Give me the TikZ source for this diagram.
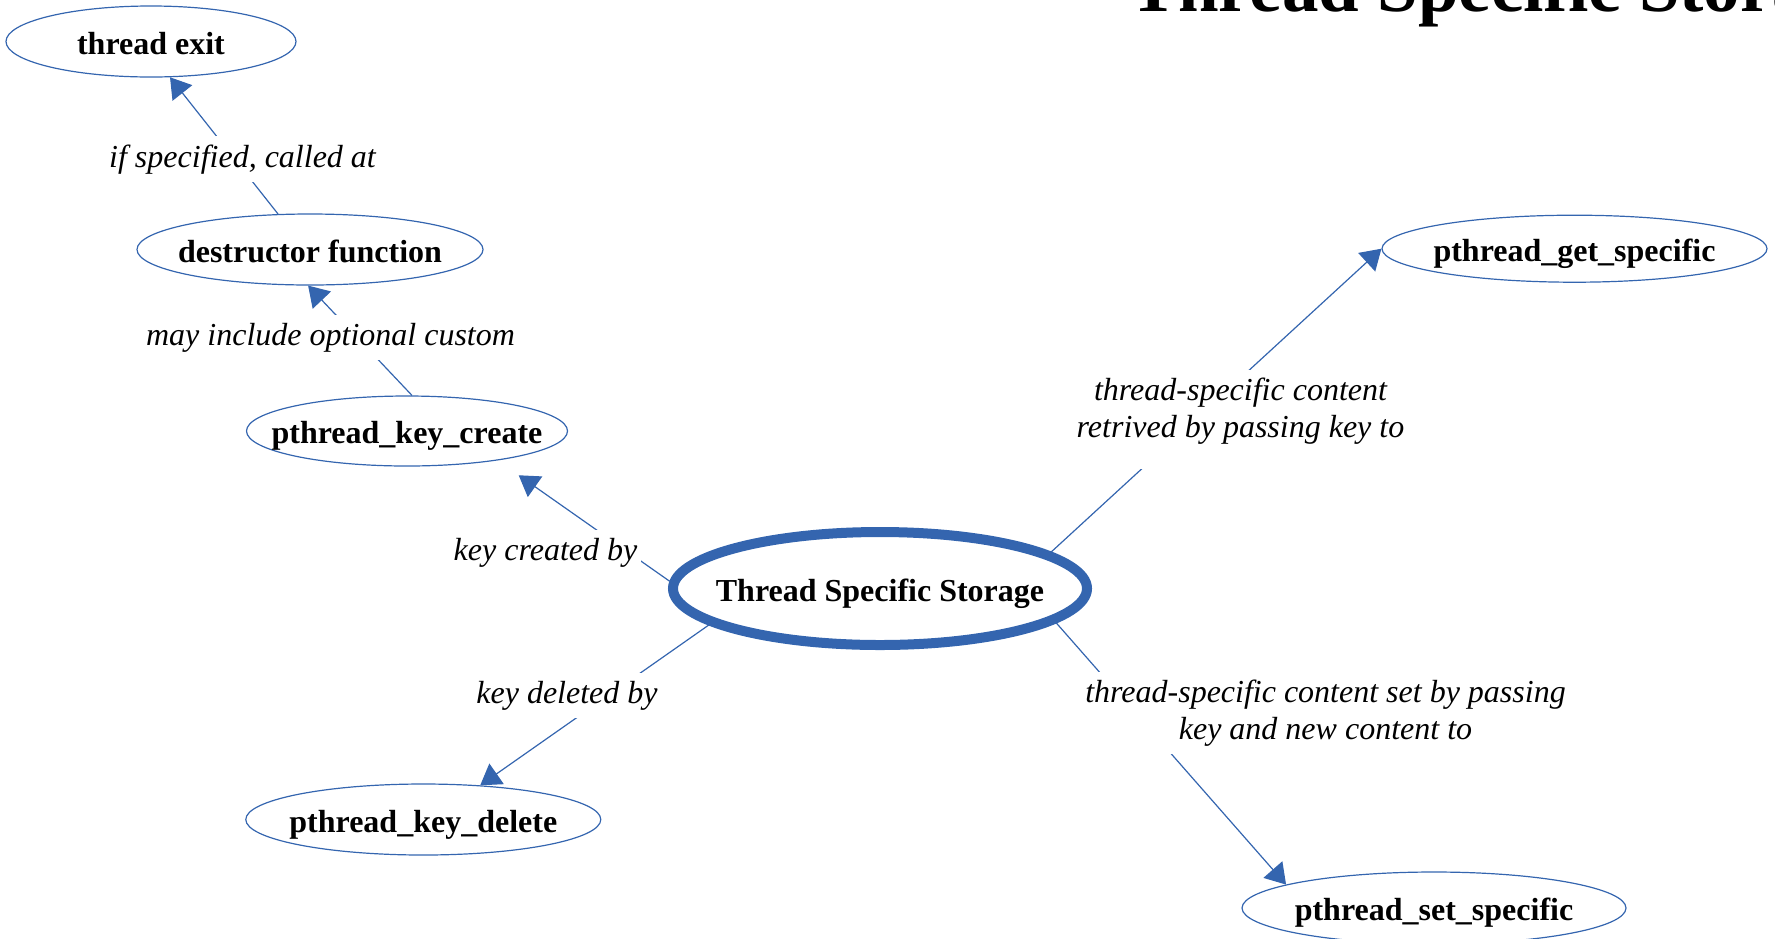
\documentclass[tikz,border=0pt]{standalone}
\usepackage{fontspec}
\setmainfont{Liberation Serif}
\usetikzlibrary{shapes.geometric,arrows.meta}
\definecolor{tssblue}{RGB}{52,101,175}
\newcommand{\nb}[1]{\makebox[0pt]{#1}}
\begin{document}
\begin{tikzpicture}[x=0.5pt,y=-0.5pt,
  leaf/.style={ellipse, draw=tssblue, line width=0.6pt, inner sep=0pt,
    text height=12.5pt, text depth=0pt,
    font=\fontsize{16pt}{18.5pt}\selectfont\bfseries},
  hub/.style={leaf, line width=5pt},
  lab/.style={fill=white, inner xsep=2pt, inner ysep=4pt,
    font=\fontsize{16pt}{18.5pt}\selectfont\itshape},
  labtwo/.style={lab, align=center},
  conn/.style={draw=tssblue, line width=0.6pt,
    -{Triangle[length=10pt,width=12.5pt]}}
]
\useasboundingbox (0,0) rectangle (1775,938);
\clip (0,0) rectangle (1775,938);

% title (cut by the frame)
\node[anchor=base west, inner sep=0pt,
  font=\fontsize{36.5pt}{40pt}\selectfont\bfseries] (title) at (1129,11.5) {Thread Specific Storage};

% nodes
\node[leaf, minimum width=145pt, minimum height=35.5pt] (texit) at (151,41.5) {\nb{thread exit}};
\node[leaf, minimum width=173pt, minimum height=35.5pt] (destr) at (310,249.5) {\nb{destructor function}};
\node[leaf, minimum width=160.5pt, minimum height=35pt] (kcreate) at (407,431) {\nb{pthread\_key\_create}};
\node[hub, minimum width=207pt, minimum height=56.5pt] (tss) at (880,588.5) {\nb{Thread Specific Storage}};
\node[leaf, minimum width=192.5pt, minimum height=33.5pt] (getspec) at (1574.5,248.7) {\nb{pthread\_get\_specific}};
\node[leaf, minimum width=177.5pt, minimum height=35.5pt] (kdelete) at (423.3,819.5) {\nb{pthread\_key\_delete}};
\node[leaf, minimum width=192pt, minimum height=36pt] (setspec) at (1434,908) {\nb{pthread\_set\_specific}};

% connectors
\draw[conn] (destr.132.9) -- (texit.298.2);
\draw[conn] (kcreate.82.1) -- (destr.267.7);
\draw[conn, shorten >=12.9pt] (tss.178.5) -- (kcreate.342.3);
\draw[conn] (tss.192.9) -- (kdelete.31.9);
\draw[conn] (tss.12.9) -- (getspec.180.6);
\draw[conn] (tss.349.2) -- (setspec.171);

% connector labels
\node[lab, anchor=base] (l1) at (242.5,167) {if specified, called at};
\node[lab, anchor=base] (l2) at (330.5,345.5) {may include optional custom};
\node[lab, anchor=base] (l3) at (545.5,560.5) {key created by};
\node[lab, anchor=base] (l4) at (567,703) {key deleted by};
\node[labtwo] (l5) at (1240.5,419.6) {thread-specific content\\retrived by passing key to\rule[-12pt]{0pt}{0pt}};
\node[labtwo] (l6) at (1325.5,713) {thread-specific content set by passing\\key and new content to};
\end{tikzpicture}
\end{document}
